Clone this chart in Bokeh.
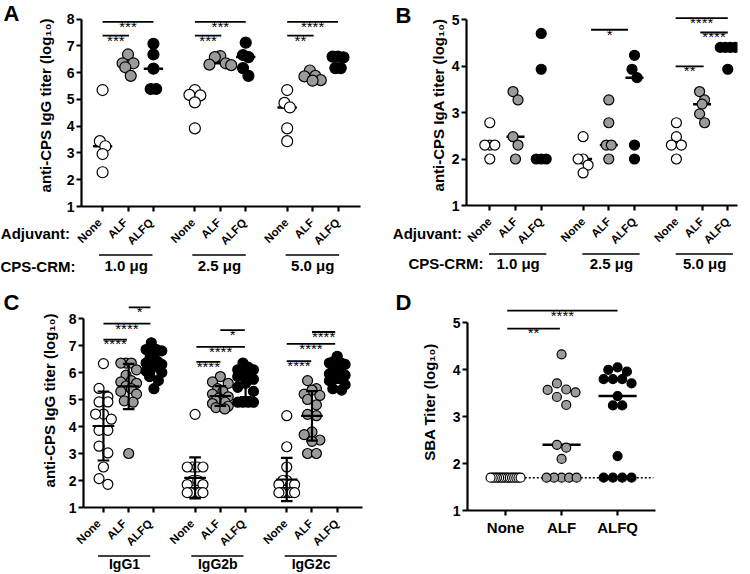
import numpy as np
from math import pi
from bokeh.plotting import figure
from bokeh.models import ColumnDataSource, FixedTicker, Range1d, LinearAxis
from bokeh.layouts import row, column
from bokeh.core.properties import value
from bokeh.embed import file_html
from bokeh.resources import INLINE

FONT = "Liberation Sans"

adjuvants = ["None", "ALF", "ALFQ"]
doses = ["1.0 μg", "2.5 μg", "5.0 μg"]
subclasses = ["IgG1", "IgG2b", "IgG2c"]
fill_colors = ["white", "#9b9b9b", "black"]

# ---------------- Panel A: anti-CPS IgG titer (log10), per dose group
A_none = [[5.35, 3.44, 3.25, 2.96, 2.28], [5.35, 5.17, 5.15, 4.89, 3.92], [5.35, 4.87, 4.70, 3.92, 3.44]]
A_alf = [[6.68, 6.35, 6.35, 6.20, 5.88], [6.62, 6.58, 6.35, 6.30, 6.28], [6.08, 5.88, 5.86, 5.72, 5.70]]
A_alfq = [[7.08, 6.68, 6.15, 5.39, 5.39], [7.12, 6.66, 6.58, 6.17, 5.88], [6.60, 6.60, 6.57, 6.17, 6.17]]
# (group, from, to, y, text)
A_sig = [(0, 0, 2, 7.90, "***"), (0, 0, 1.04, 7.38, "***"),
         (1, 0, 2, 7.90, "***"), (1, 0, 1.04, 7.38, "***"),
         (2, 0, 2, 7.90, "****"), (2, 0, 1.04, 7.38, "**")]

# ---------------- Panel B: anti-CPS IgA titer (log10)
B_none = [[2.78, 2.30, 2.30, 2.30, 2.00], [2.48, 2.00, 2.00, 1.87, 1.70], [2.78, 2.48, 2.30, 2.30, 2.00]]
B_alf = [[3.45, 3.27, 2.48, 2.30, 2.00], [3.27, 2.78, 2.30, 2.30, 2.00], [3.45, 3.27, 3.18, 2.97, 2.78]]
B_alfq = [[4.70, 3.93, 2.00, 2.00, 2.00], [4.23, 3.93, 3.75, 2.30, 2.00], [4.40, 4.40, 4.40, 4.40, 3.93]]
B_sig = [(1, 0.31, 1.75, 4.78, "*"), (2, -0.03, 2, 5.03, "****"),
         (2, 0.93, 2, 4.72, "****"), (2, -0.03, 1.06, 3.99, "**")]

# ---------------- Panel C: anti-CPS IgG subclass titers (log10)
C_none = [[6.33, 5.41, 5.10, 4.91, 4.91, 4.46, 4.46, 4.27, 3.86, 3.86, 3.27, 3.02, 2.50, 2.07, 1.86],
          [4.45, 2.50, 2.50, 2.50, 2.50, 2.00, 2.00, 1.85, 1.85, 1.55, 1.55, 1.55, 1.55, 1.55, 1.55],
          [4.40, 3.25, 2.50, 2.00, 2.00, 1.85, 1.85, 1.85, 1.55, 1.55, 1.55, 1.55, 1.55, 1.55, 1.55]]
C_alf = [[6.35, 6.35, 6.35, 6.10, 5.90, 5.70, 5.65, 5.60, 5.50, 5.40, 5.30, 5.20, 4.95, 4.90, 3.00],
         [5.85, 5.65, 5.60, 5.40, 5.30, 5.20, 5.10, 5.05, 5.00, 4.95, 4.90, 4.85, 4.75, 4.70, 4.65],
         [5.70, 5.40, 5.35, 5.20, 5.15, 5.00, 4.80, 4.45, 4.40, 3.80, 3.70, 3.50, 3.45, 3.00, 3.00]]
C_alfq = [[7.10, 6.85, 6.85, 6.80, 6.60, 6.55, 6.40, 6.35, 6.30, 6.20, 6.05, 6.00, 5.85, 5.70, 5.40],
          [6.35, 6.20, 6.10, 6.10, 5.95, 5.90, 5.85, 5.75, 5.60, 5.45, 5.30, 4.90, 4.90, 4.90, 4.90],
          [6.60, 6.40, 6.35, 6.35, 6.30, 6.20, 6.10, 6.00, 5.95, 5.90, 5.80, 5.70, 5.55, 5.40, 5.35]]
C_sig = [(0, 1.0, 1.86, 8.41, "*"), (0, 0, 1.86, 7.81, "****"), (0, 0, 0.93, 7.22, "****"),
         (1, 1.0, 1.97, 7.57, "*"), (1, 0.05, 1.97, 6.95, "****"), (1, 0.05, 1.0, 6.39, "****"),
         (2, 1.0, 1.92, 7.50, "****"), (2, 0, 1.92, 7.06, "****"), (2, 0, 0.97, 6.42, "****")]

# ---------------- Panel D: SBA titer (log10)
D_none = [1.7, 1.7, 1.7, 1.7, 1.7, 1.7, 1.7, 1.7, 1.7, 1.7, 1.7, 1.7, 1.7, 1.7, 1.7]
D_alf = [4.33, 3.71, 3.58, 3.57, 3.52, 3.42, 3.25, 2.40, 2.34, 2.10, 1.7, 1.7, 1.7, 1.7, 1.7]
D_alfq = [4.05, 4.00, 3.96, 3.80, 3.80, 3.80, 3.71, 3.44, 3.24, 3.24, 2.16, 1.7, 1.7, 1.7, 1.7]
D_lod = 1.7
D_sig = [(0.03, 2.0, 5.26, "****"), (0.03, 0.97, 4.88, "**")]

GROUP_STEP = 3.63


class Geo:
    def __init__(self, W, H, FL, FR, FT, FB, xs, ux, uy, ys=1.0):
        self.W, self.H, self.FL, self.FR, self.FT, self.FB = W, H, FL, FR, FT, FB
        self.xs, self.ux, self.uy, self.ys = xs, ux, uy, ys
        self.xe = xs + (FR - FL) / ux
        self.ye = ys + (FB - FT) / uy

    def dy(self, cy):
        return self.ys + (self.FB - cy) / self.uy


def pos(gi, i):
    return gi * GROUP_STEP + i


def swarm(vals, uy, ux, s, hb, wmax):
    order = sorted(range(len(vals)), key=lambda i: -vals[i])
    bins = []
    for i in order:
        if bins and (vals[bins[-1][0]] - vals[i]) * uy < hb:
            bins[-1].append(i)
        else:
            bins.append([i])
    offs = [0.0] * len(vals)
    for b in bins:
        n = len(b)
        if n == 1:
            continue
        sp = min(s, wmax / (n - 1))
        slots = [(k - (n - 1) / 2) * sp for k in range(n)]
        slots.sort(key=lambda o: (abs(o), o))
        for i, o in zip(b, slots):
            offs[i] = o / ux
    return offs


def base_fig(W, H, xr, yr, fl, fr, ft, fb, xaxis=False, yaxis=False):
    p = figure(width=W, height=H, x_range=xr, y_range=yr,
               min_border_left=fl, min_border_right=fr, min_border_top=ft, min_border_bottom=fb,
               x_axis_location="below" if xaxis else None, y_axis_location="left" if yaxis else None,
               output_backend="svg", toolbar_location=None, frame_align=False)
    p.grid.visible = False
    p.outline_line_color = None
    p.background_fill_color = "white"
    p.border_fill_color = "white"
    return p


def style_axis(ax, fs):
    ax.axis_line_width = 2.2
    ax.axis_line_color = "black"
    ax.major_tick_line_width = 2.2
    ax.major_tick_line_color = "black"
    ax.major_tick_out = 5
    ax.major_tick_in = 0
    ax.minor_tick_out = 0
    ax.minor_tick_in = 0
    ax.major_label_text_font = FONT
    ax.major_label_text_font_style = "bold"
    ax.major_label_text_color = "black"
    ax.major_label_text_font_size = fs


def main_fig(g, ylabel, yticks, ylab_standoff, letter, letter_cy, letter_standoff,
             xt, xlabels=None, xfs="15px"):
    p = base_fig(g.W, g.H, Range1d(g.xs, g.xe), Range1d(g.ys, g.ye),
                 g.FL, g.W - g.FR, g.FT, g.H - g.FB, xaxis=True, yaxis=True)
    ya = p.yaxis[0]
    style_axis(ya, "14px")
    ya.ticker = FixedTicker(ticks=yticks, minor_ticks=[])
    ya.bounds = (yticks[0], yticks[-1])
    ya.major_label_standoff = 2
    ya.axis_label = ylabel
    ya.axis_label_text_font = FONT
    ya.axis_label_text_font_style = "bold"
    ya.axis_label_text_font_size = "15px"
    ya.axis_label_text_color = "black"
    ya.axis_label_standoff = ylab_standoff
    lv = g.dy(letter_cy)
    la = LinearAxis(ticker=FixedTicker(ticks=[lv], minor_ticks=[]), major_label_overrides={lv: letter},
                    axis_line_color=None, major_tick_line_color=None, minor_tick_line_color=None,
                    major_tick_out=0, major_tick_in=0, minor_tick_out=0, minor_tick_in=0,
                    major_label_standoff=letter_standoff, major_label_text_font=FONT,
                    major_label_text_font_style="bold", major_label_text_font_size="22px",
                    major_label_text_color="black")
    p.add_layout(la, "left")
    xa = p.xaxis[0]
    style_axis(xa, xfs)
    xa.ticker = FixedTicker(ticks=xt, minor_ticks=[])
    if xlabels is None:
        xa.major_label_overrides = {t: "" for t in xt}
        xa.major_label_text_font_size = "1px"
        xa.major_label_standoff = 0
    else:
        xa.major_label_overrides = {t: lab for t, lab in zip(xt, xlabels)}
        xa.major_label_standoff = 3
    return p


def xlabel_fig(W, H, fl, fr, xs, ux, xt, xlabels):
    fw = W - fl - fr
    p = base_fig(W, H, Range1d(xs, xs + fw / ux), Range1d(0, 1), fl, fr, 0, H - 1, xaxis=True)
    xa = p.xaxis[0]
    style_axis(xa, "11.5px")
    xa.axis_line_color = None
    xa.major_tick_line_color = None
    xa.major_tick_out = 0
    xa.ticker = FixedTicker(ticks=xt, minor_ticks=[])
    xa.major_label_overrides = {t: lab for t, lab in zip(xt, xlabels)}
    xa.major_label_orientation = pi / 4
    xa.major_label_standoff = 6
    return p


def text_fig(W, H, x0, ux):
    return base_fig(W, H, Range1d(x0, x0 + W / ux), Range1d(H, 0), 0, 0, 0, 0)


def add_texts(p, xs, ys, texts, size, align, style="bold"):
    p.text(x=xs, y=ys, text=texts, text_font=value(FONT), text_font_size=f"{size}px",
           text_font_style=style, text_align=align, text_baseline="middle", text_color="black")


def draw_points(p, xs, ys, fill, size):
    src = ColumnDataSource(dict(x=xs, y=ys))
    p.scatter("x", "y", source=src, marker="circle", size=size, fill_color=fill,
              line_color="black", line_width=1.2)


def draw_sig(p, g, items, posfn):
    x0 = [posfn(it[0], it[1]) for it in items]
    x1 = [posfn(it[0], it[2]) for it in items]
    yy = [it[3] for it in items]
    p.segment(x0=x0, y0=yy, x1=x1, y1=yy, line_color="black", line_width=1.8)
    tx = [(a + b) / 2 for a, b in zip(x0, x1)]
    ty = [y - 4.4 / g.uy for y in yy]
    p.text(x=tx, y=ty, text=[it[4] for it in items], text_font=value(FONT),
           text_font_size="15px", text_align="center", text_baseline="alphabetic",
           text_color="black")


def grouped_points(p, g, data, size, swarm_par, med_hw):
    if med_hw is not None:
        mx0, mx1, my = [], [], []
        for gi in range(3):
            for i in range(3):
                m = float(np.median(data[i][gi]))
                mx0.append(pos(gi, i) - med_hw)
                mx1.append(pos(gi, i) + med_hw)
                my.append(m)
        p.segment(x0=mx0, y0=my, x1=mx1, y1=my, line_color="black", line_width=2.5)
    for i in range(3):
        xs, ys = [], []
        for gi in range(3):
            v = data[i][gi]
            offs = swarm(v, g.uy, g.ux, *swarm_par)
            xs += [pos(gi, i) + o for o in offs]
            ys += list(v)
        draw_points(p, xs, ys, fill_colors[i], size)


def group_strip(W, H, g, names, uline_y, text_y, ext, fs, left_text=None):
    x0 = g.xs - g.FL / g.ux
    s = text_fig(W, H, x0, g.ux)
    s.segment(x0=[pos(gi, 0) - 0.03 for gi in range(3)], x1=[pos(gi, 2) + ext for gi in range(3)],
              y0=[uline_y] * 3, y1=[uline_y] * 3, line_color="black", line_width=1.5)
    add_texts(s, [pos(gi, 1) + ext / 2 for gi in range(3)], [text_y] * 3, names, fs, "center")
    if left_text is not None:
        cx, cy, t = left_text
        add_texts(s, [x0 + cx / g.ux], [cy], [t], 15, "right")
    return s


xt9 = [pos(gi, i) for gi in range(3) for i in range(3)]
xl9 = [adjuvants[i] for gi in range(3) for i in range(3)]

# ---------------- Panel A  (page x 0-375, y 0-289)
gA = Geo(375, 214, 78, 360, 4, 206, -0.829, 25.7, 26.77)
mA = main_fig(gA, "anti-CPS IgG titer (log₁₀)", [1, 2, 3, 4, 5, 6, 7, 8], 10, "A", 12.5, 14, xt9)
grouped_points(mA, gA, [A_none, A_alf, A_alfq], 11, (5.5, 10, 25), 0.38)
draw_sig(mA, gA, A_sig, pos)
kA = text_fig(70, 39, 0, 1)
add_texts(kA, [69.5], [19], ["Adjuvant:"], 15, "right")
xA = xlabel_fig(305, 39, 8, 15, gA.xs, gA.ux, xt9, xl9)
sA = group_strip(375, 36, gA, doses, 1.5, 12, 0.05, 15, (75, 13, "CPS-CRM:"))
colA = column(mA, row(kA, xA), sA)

# ---------------- Panel B  (page x 375-749, y 0-289)
gB = Geo(374, 213, 91, 362, 4, 205, -0.907, 25.7, 46.5)
mB = main_fig(gB, "anti-CPS IgA titer (log₁₀)", [1, 2, 3, 4, 5], 2, "B", 10.5, 15, xt9)
grouped_points(mB, gB, [B_none, B_alf, B_alfq], 10, (5, 9, 20), 0.35)
draw_sig(mB, gB, B_sig, pos)
kB = text_fig(87, 39, 0, 1)
add_texts(kB, [86.5], [19.7], ["Adjuvant:"], 15, "right")
xB = xlabel_fig(287, 39, 4, 12, gB.xs, gB.ux, xt9, xl9)
sB = group_strip(374, 37, gB, doses, 1.5, 11, 0.2, 15, (108, 11, "CPS-CRM:"))
colB = column(mB, row(kB, xB), sB)

# ---------------- Panel C (mean +/- SD)  (page x 0-375, y 289-573)
gC = Geo(375, 226, 78, 362, 4, 218, -0.79, 25.7, 27.0)
mC = main_fig(gC, "anti-CPS IgG titer (log₁₀)", [1, 2, 3, 4, 5, 6, 7, 8], 8, "C", 12.5, 18, xt9)
grouped_points(mC, gC, [C_none, C_alf, C_alfq], 10, (9, 9, 16), None)
ex0, ex1, ey0, ey1 = [], [], [], []
for gi in range(3):
    for i, dset in enumerate([C_none, C_alf, C_alfq]):
        v = np.array(dset[gi])
        m, sd = float(v.mean()), float(v.std(ddof=1))
        x = pos(gi, i)
        ex0 += [x - 0.43, x, x - 0.23, x - 0.23]
        ex1 += [x + 0.43, x, x + 0.23, x + 0.23]
        ey0 += [m, m - sd, m - sd, m + sd]
        ey1 += [m, m + sd, m - sd, m + sd]
mC.segment(x0=ex0, y0=ey0, x1=ex1, y1=ey1, line_color="black", line_width=2.2)
draw_sig(mC, gC, C_sig, pos)
xC = xlabel_fig(375, 39, 78, 13, gC.xs, gC.ux, xt9, xl9)
sC = group_strip(375, 19, gC, subclasses, 1.5, 9.8, 0.0, 14)
colC = column(mC, xC, sC)

# ---------------- Panel D  (page x 375-749, y 289-573)
gD = Geo(374, 284, 92, 280, 4, 221, -0.68, 56.0, 46.9)
mD = main_fig(gD, "SBA Titer (log₁₀)", [1, 2, 3, 4, 5], 12, "D", 12, 6, [0, 1, 2], adjuvants, "15px")
mD.segment(x0=[-0.3], y0=[D_lod], x1=[2.64], y1=[D_lod], line_color="black", line_width=1.5,
           line_dash="2 2")
dsets = [D_none, D_alf, D_alfq]
mx0, mx1, my = [], [], []
for i, v in enumerate(dsets):
    mx0.append(i - 0.34)
    mx1.append(i + 0.34)
    my.append(float(np.median(v)))
mD.segment(x0=mx0, y0=my, x1=mx1, y1=my, line_color="black", line_width=2.5)
for i, v in enumerate(dsets):
    offs = swarm(v, gD.uy, gD.ux, 9.3, 9, 30)
    draw_points(mD, [i + o for o in offs], list(v), fill_colors[i], 9)
draw_sig(mD, gD, [(0, s[0], s[1], s[2], s[3]) for s in D_sig], lambda gi, i: i)

layout = column(row(colA, colB), row(colC, mD))
open("out.html", "w").write(file_html(layout, INLINE))
